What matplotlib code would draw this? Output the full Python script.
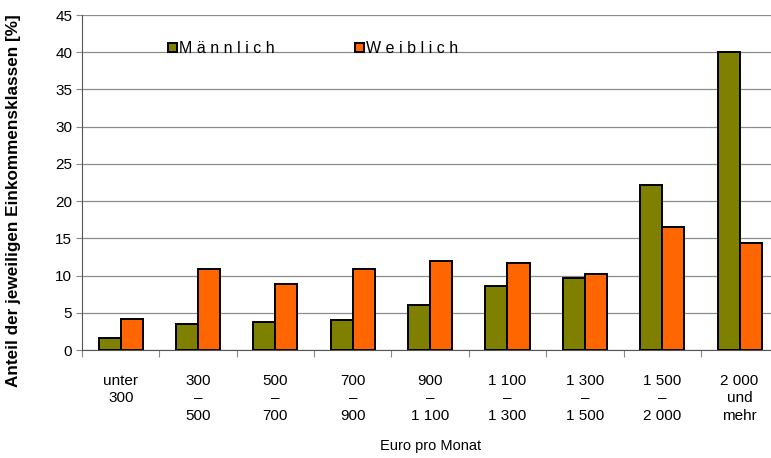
import numpy as np
import matplotlib.pyplot as plt

plt.rcParams['font.family'] = ['Liberation Sans', 'DejaVu Sans']

# Einkommensklassen (Euro pro Monat)
categories = ["unter\n300", "300\n–\n500", "500\n–\n700", "700\n–\n900",
              "900\n–\n1 100", "1 100\n–\n1 300", "1 300\n–\n1 500",
              "1 500\n–\n2 000", "2 000\nund\nmehr"]
maennlich = [1.65, 3.55, 3.8, 4.0, 6.1, 8.65, 9.7, 22.2, 40.0]
weiblich = [4.2, 10.9, 8.9, 10.9, 12.0, 11.75, 10.2, 16.5, 14.35]

c_m = '#808000'
c_w = '#FF6600'

fig = plt.figure(figsize=(7.71, 4.58), dpi=100)
ax = fig.add_axes([0.1064, 0.2358, 0.903, 0.7314])

x = np.arange(len(categories))
w = 0.285
ax.bar(x - w / 2, maennlich, w, color=c_m, edgecolor='black', linewidth=1.4,
       label="M ä n n l i c h", zorder=3)
ax.bar(x + w / 2, weiblich, w, color=c_w, edgecolor='black', linewidth=1.4,
       label="W e i b l i c h", zorder=3)

ax.set_xlim(-0.5, len(categories) - 0.5)
ax.set_ylim(0, 45)
ax.set_yticks(range(0, 46, 5))
ax.yaxis.grid(True, color='#8c8c8c', linewidth=0.9, zorder=0)

# category ticks between groups, labels centred
ax.set_xticks(np.arange(len(categories) + 1) - 0.5)
ax.set_xticklabels([])
ax.set_xticks(x, minor=True)
ax.set_xticklabels(categories, minor=True, fontsize=11, linespacing=1.35,
                   va='top')
ax.tick_params(axis='x', which='minor', length=0, pad=17)
ax.tick_params(axis='x', which='major', length=5, color='#888888')
ax.tick_params(axis='y', length=4, labelsize=11, color='#888888', pad=3)

for s in ['top', 'right']:
    ax.spines[s].set_visible(False)
ax.spines['left'].set_color('#555555')
ax.spines['bottom'].set_color('#555555')

ax.set_ylabel("Anteil der jeweiligen Einkommensklassen [%]", fontsize=12.3,
              fontweight='bold')
ax.yaxis.set_label_coords(-0.0876, 0.445)
ax.set_xlabel("Euro pro Monat", fontsize=10.5, labelpad=11)

leg = ax.legend(loc='upper left', bbox_to_anchor=(0.103, 0.965), ncol=2,
                frameon=False, fontsize=11.5, handlelength=0.55,
                handleheight=0.55, handletextpad=0.15, columnspacing=5.0)

fig.savefig("out.png", dpi=100)
